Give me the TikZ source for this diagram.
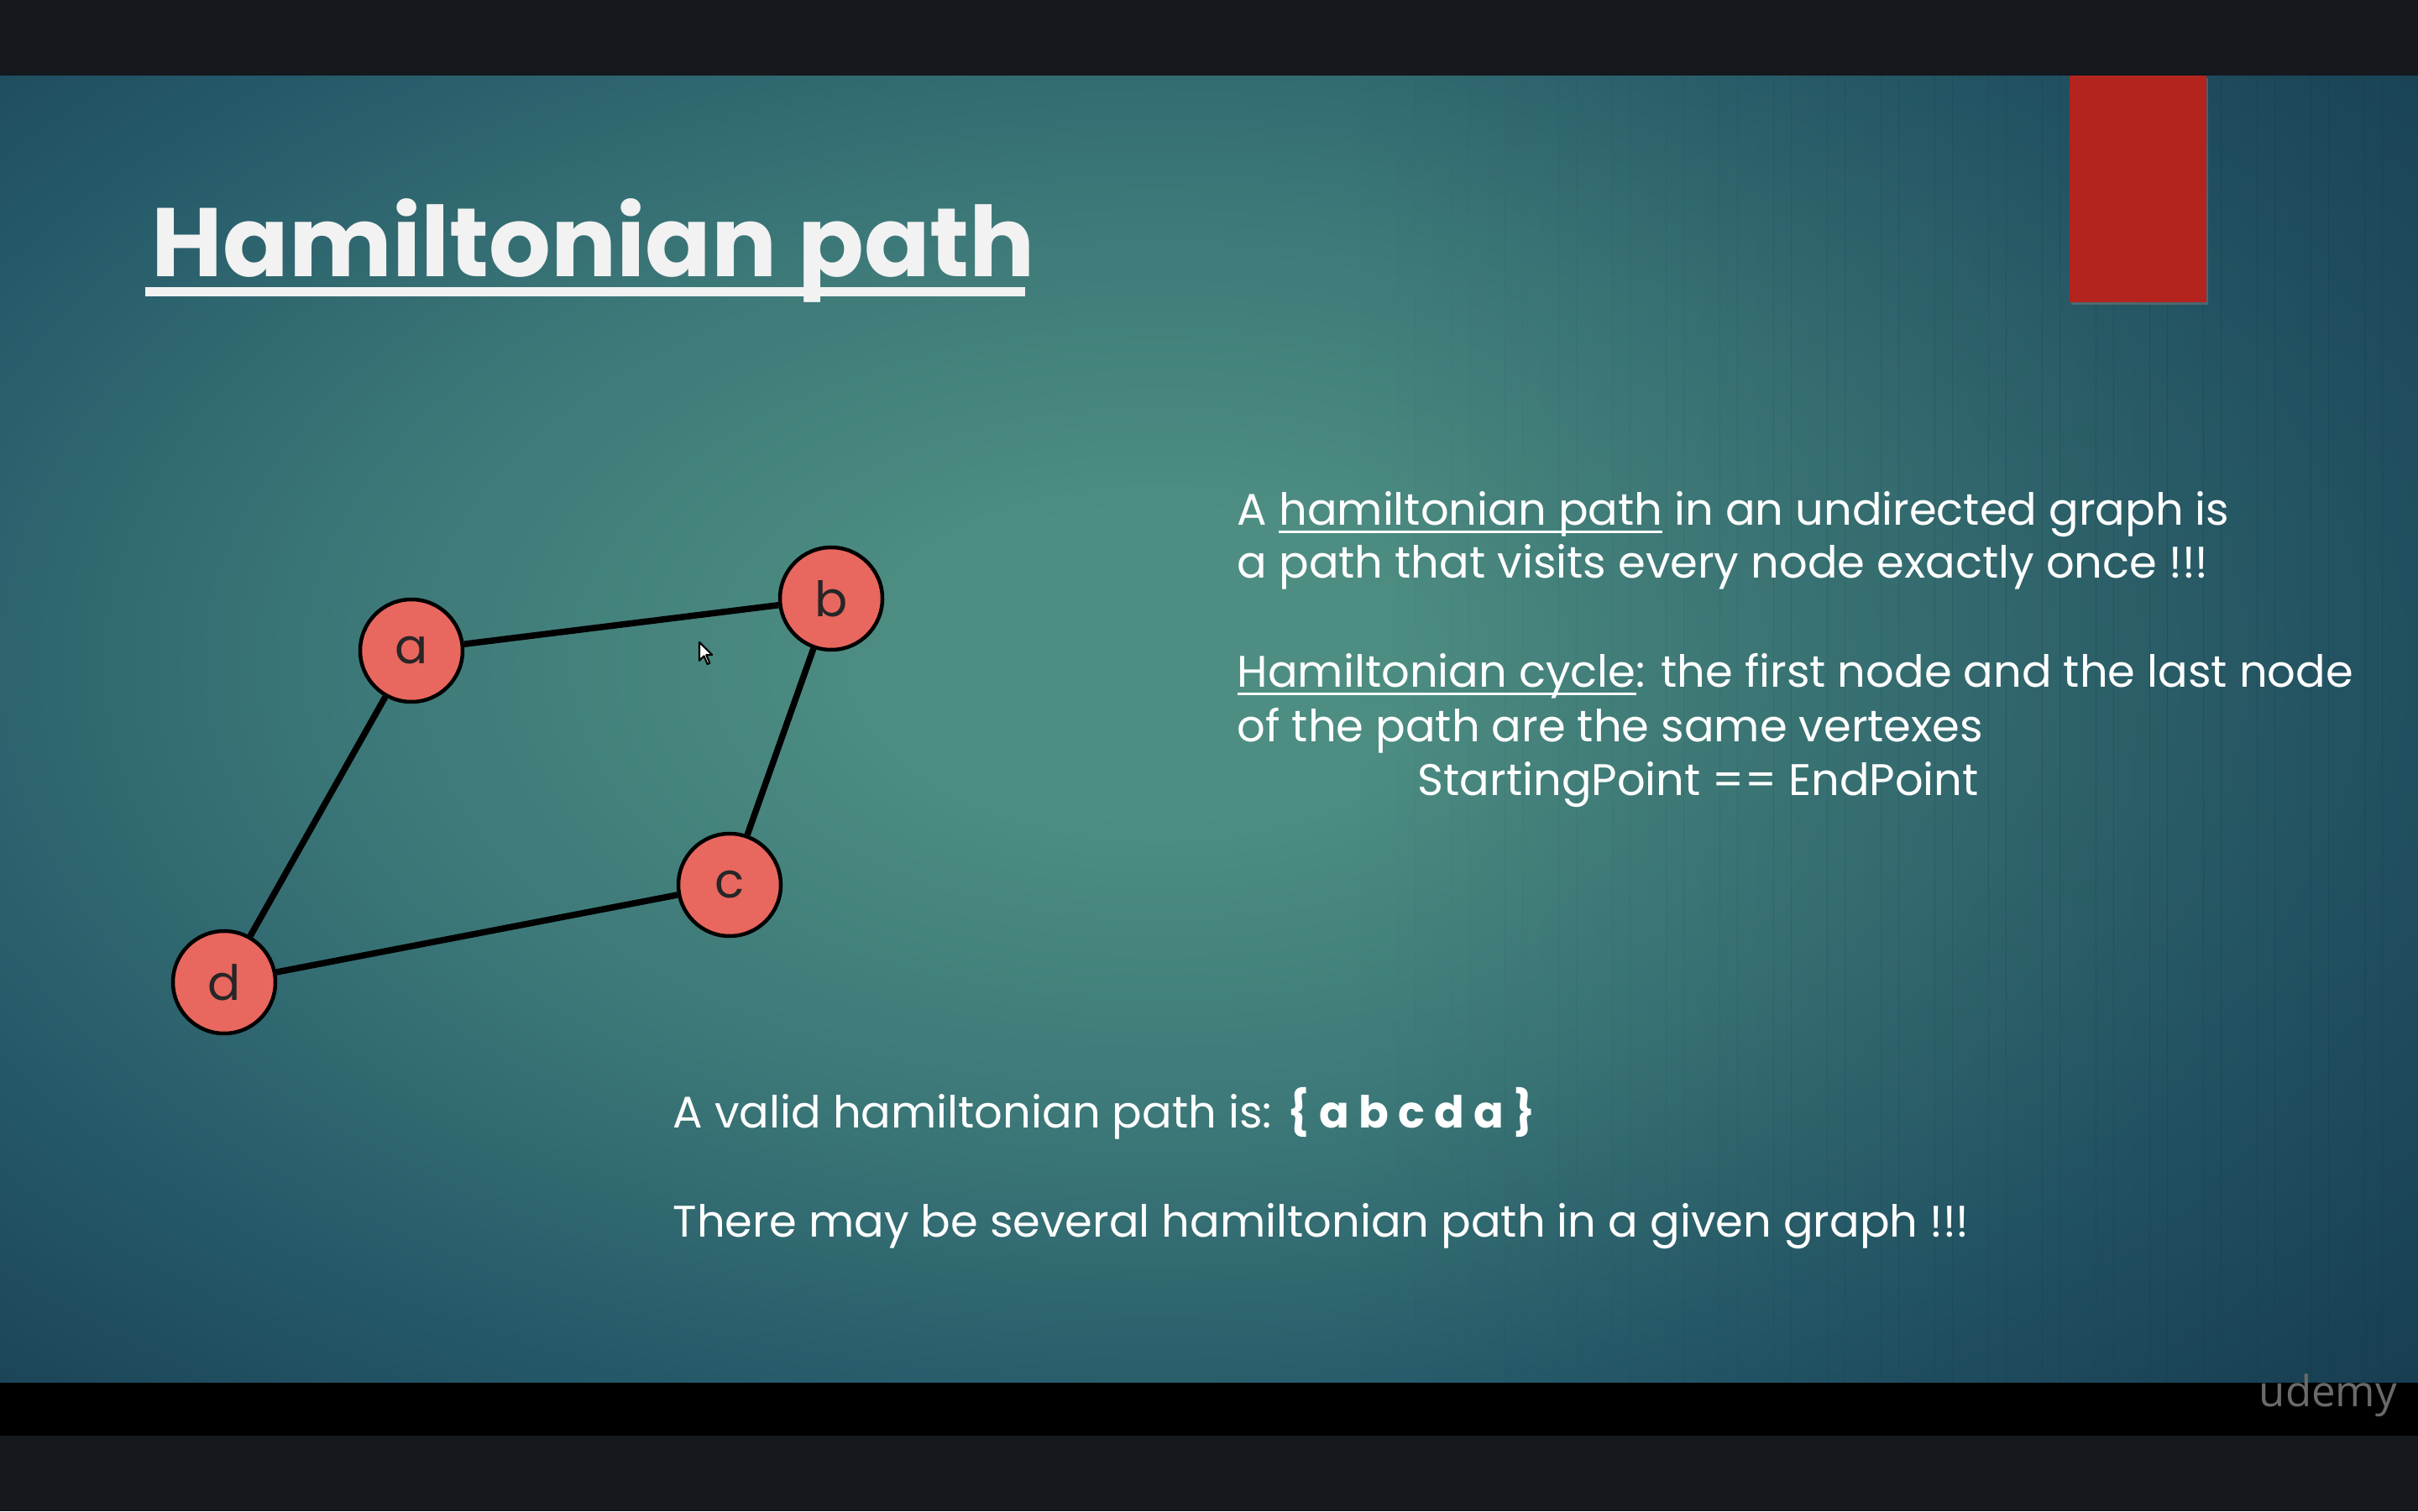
\documentclass[tikz,border=0pt]{standalone}
\usepackage{fontspec}
\setmainfont{Poppins}
\newfontfamily\logofont{Open Sans}
\usetikzlibrary{shadows}

\definecolor{barcol}{HTML}{15181D}
\definecolor{bgA}{RGB}{78,142,130}
\definecolor{bgM}{RGB}{60,120,120}
\definecolor{bgB}{RGB}{36,88,104}
\definecolor{bgdeep}{RGB}{22,58,78}
\definecolor{accent}{HTML}{B2241D}
\definecolor{vertexfill}{HTML}{E8675F}
\definecolor{logogray}{HTML}{6A6A6A}

% radial backdrop: the path's half-width corresponds to 25bp
\pgfdeclareradialshading{slidebg}{\pgfpoint{0bp}{0bp}}{%
  color(0bp)=(bgA); color(5bp)=(bgA); color(16bp)=(bgM); color(27bp)=(bgB); color(38bp)=(bgdeep)}

% underline set just below the baseline, crossing the descenders
\newcommand\ulined[1]{\setbox0=\hbox{#1}\rlap{\rule[-0.17em]{\wd0}{0.06em}}\box0\relax}

\tikzset{
  vertex/.style={circle, draw=black, line width=0.045cm, fill=vertexfill,
    minimum size=1.22cm, inner sep=0pt, text=black!85,
    font=\fontsize{16.5pt}{18pt}\selectfont},
  edge/.style={line width=0.075cm, black},
  bodytext/.style={anchor=base west, inner sep=0pt, text=white,
    font=\fontsize{15pt}{18pt}\selectfont},
}

\begin{document}
\begin{tikzpicture}
  \useasboundingbox (0,0) rectangle (28.8,18);

  % slide background
  \begin{scope}
    \clip (0,1.53) rectangle (28.8,17.1);
    \shade[shading=slidebg] (-1.2,1.53) rectangle (28.8,18.67);
    % deeper blue towards the right side, built from thin strips
    \foreach \i in {0,...,59}{
      \fill[bgdeep, opacity={0.40*\i/59}]
        ({16+\i*12.8/60},1.53) rectangle ({16+(\i+1)*12.8/60+0.005},17.1);
    }
  \end{scope}

  % frame bars
  \fill[barcol] (0,17.1) rectangle (28.8,18);
  \fill[black] (0,0.9) rectangle (28.8,1.53);
  \fill[barcol] (0,0) rectangle (28.8,0.9);

  % accent bar
  \fill[accent, drop shadow={shadow xshift=0.02cm, shadow yshift=-0.03cm, opacity=0.45}]
    (24.65,14.4) rectangle (26.28,17.1);

  % title
  \node[anchor=base west, inner sep=0pt, text=white!95!black,
        font=\fontsize{33pt}{36pt}\selectfont\bfseries] (title) at (1.80,14.70) {Hamiltonian path};
  \fill[white!95!black] (1.73,14.47) rectangle (12.21,14.58);

  % graph
  \node[vertex] (a) at (4.90,10.25) {a};
  \node[vertex] (b) at (9.90,10.87) {b};
  \node[vertex] (c) at (8.69,7.46) {c};
  \node[vertex] (d) at (2.67,6.30) {d};
  \draw[edge] (a) -- (b);
  \draw[edge] (b) -- (c);
  \draw[edge] (c) -- (d);
  \draw[edge] (d) -- (a);

  % pointer
  \coordinate (tip) at (8.33,10.35);
  \draw[black, line width=0.6pt, fill=white, line join=round, shift={(tip)}, scale=0.0137]
    (0,0) -- (0,-16) -- (4,-12) -- (7,-19) -- (9,-18) -- (6,-11) -- (11,-11) -- cycle;

  % definitions
  \node[bodytext] (l1) at (14.73,11.74) {A \ulined{hamiltonian path} in an undirected graph is};
  \node[bodytext] (l2) at (14.73,11.11) {a path that visits every node exactly once !!!};
  \node[bodytext] (l3) at (14.73,9.81) {\ulined{Hamiltonian cycle}: the first node and the last node};
  \node[bodytext] (l4) at (14.73,9.17) {of the path are the same vertexes};
  \node[bodytext] (l5) at (16.88,8.52) {StartingPoint == EndPoint};

  \node[bodytext] (ex) at (8.01,4.57) {A valid hamiltonian path is: \textbf{\{ a b c d a \}}};
  \node[bodytext] (note) at (8.01,3.27) {There may be several hamiltonian path in a given graph !!!};

  % logo
  \node[anchor=base west, inner sep=0pt, text=logogray,
        font=\logofont\fontsize{14.5pt}{16pt}\selectfont] (logo) at (26.90,1.25) {udemy};
\end{tikzpicture}
\end{document}
